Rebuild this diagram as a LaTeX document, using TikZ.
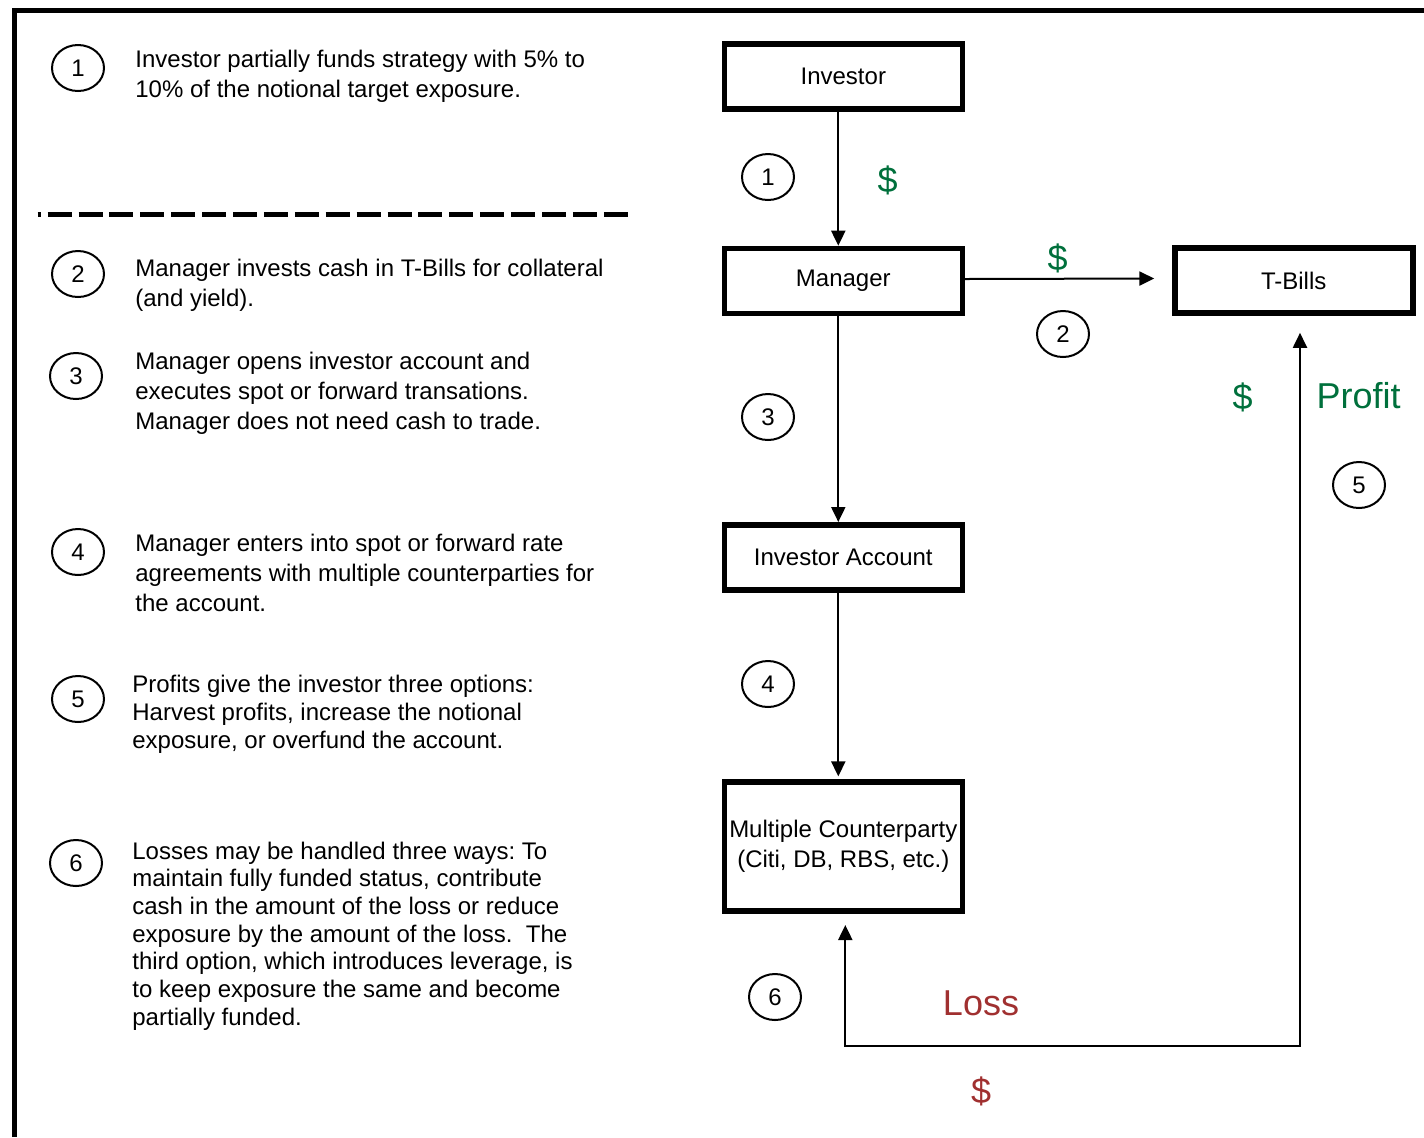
\documentclass[tikz,border=0pt]{standalone}
\usepackage{fontspec}
\setmainfont{Liberation Sans}
\usepackage{xcolor}
\usetikzlibrary{shapes.geometric, arrows.meta}

\definecolor{cashgreen}{RGB}{0,112,60}
\definecolor{lossred}{RGB}{160,48,48}
\frenchspacing

\begin{document}
\begin{tikzpicture}[x=0.5pt, y=-0.5pt, font=\fontsize{12}{15}\selectfont,
    >={Triangle[length=7.5pt, width=7pt]},
    box/.style={draw, rectangle, line width=2.8pt, minimum width=119pt, minimum height=32.5pt, inner sep=0pt, align=center},
    num/.style={draw, ellipse, line width=1pt, minimum width=26pt, minimum height=23pt, inner sep=0pt},
    note/.style={anchor=west, align=left, inner sep=0pt},
    flow/.style={->, line width=1pt},
    big/.style={font=\fontsize{18}{20}\selectfont}]
    \useasboundingbox (0,0) rectangle (1424,1137);
    % frame
    \draw [line width=2.2pt] (14.5,1137) -- (14.5,10.5) -- (1424,10.5);

    % steps on the left
    \node (n1) [num] at (78,68) {1};
    \node (t1) [note] at (135,76) {Investor partially funds strategy with 5\% to\\10\% of the notional target exposure.};
    \draw [line width=2.5pt, dash pattern=on 12pt off 3.45pt, dash phase=10.5pt] (37.7,214) -- (628,214);
    \node (n2) [num] at (78,274) {2};
    \node (t2) [note] at (135,285) {Manager invests cash in T-Bills for collateral\\(and yield).};
    \node (n3) [num] at (76,376) {3};
    \node (t3) [note] at (135,393) {Manager opens investor account and\\executes spot or forward transations.\\Manager does not need cash to trade.};
    \node (n4) [num] at (78,552) {4};
    \node (t4) [note] at (135,573) {Manager enters into spot or forward rate\\agreements with multiple counterparties for\\the account.};
    \node (n5) [num] at (78,699) {5};
    \node (t5) [note, font=\fontsize{12}{14}\selectfont] at (132,714) {Profits give the investor three options:\\Harvest profits, increase the notional\\exposure, or overfund the account.};
    \node (n6) [num] at (76,863) {6};
    \node (t6) [note, font=\fontsize{12}{13.85}\selectfont] at (132,936) {Losses may be handled three ways: To\\maintain fully funded status, contribute\\cash in the amount of the loss or reduce\\exposure by the amount of the loss.\ \ The\\third option, which introduces leverage, is\\to keep exposure the same and become\\partially funded.};

    % flow chart
    \node (inv) [box] at (843.3,76.5) {Investor};
    \node (mgr) [box] at (843.3,281) {Manager};
    \node (tbills) [box] at (1293.7,280.5) {T-Bills};
    \node (acct) [box] at (843.3,557.3) {Investor Account};
    \node (cpty) [box, minimum height=64.5pt] at (843.3,846.7) {Multiple Counterparty\\(Citi, DB, RBS, etc.)};
    \coordinate (lossL) at (845.3,1046);
    \coordinate (lossR) at (1300,1046);

    \draw [flow] ([xshift=-2.5pt]inv.south) -- ([xshift=-2.5pt]mgr.north);
    \draw [flow] ([yshift=1pt]mgr.east) -- ([xshift=-8.8pt, yshift=1pt]tbills.west);
    \draw [flow] ([xshift=-2.5pt]mgr.south) -- ([xshift=-2.5pt]acct.north);
    \draw [flow] ([xshift=-2.5pt]acct.south) -- ([xshift=-2.5pt, yshift=1.5pt]cpty.north);
    \draw [flow, <->] ([yshift=-5.5pt]cpty.south -| lossL) -- (lossL) -- (lossR) -- ([yshift=-8.5pt]tbills.south -| lossR);

    % labels on the flow
    \node (c1) [num] at (768,177) {1};
    \node (d1) [big, text=cashgreen] at (887.5,180) {\$};
    \node (d2) [big, text=cashgreen] at (1057.5,258) {\$};
    \node (c2) [num] at (1063,334) {2};
    \node (c3) [num] at (768,417) {3};
    \node (d5) [big, text=cashgreen] at (1242.5,397) {\$};
    \node (profit) [big, text=cashgreen] at (1358.5,396) {Profit};
    \node (c5) [num] at (1359,485) {5};
    \node (c4) [num] at (768,684) {4};
    \node (c6) [num] at (775,997) {6};
    \node (loss) [big, text=lossred] at (981,1003) {Loss};
    \node (d6) [big, text=lossred] at (981,1091) {\$};
\end{tikzpicture}
\end{document}
